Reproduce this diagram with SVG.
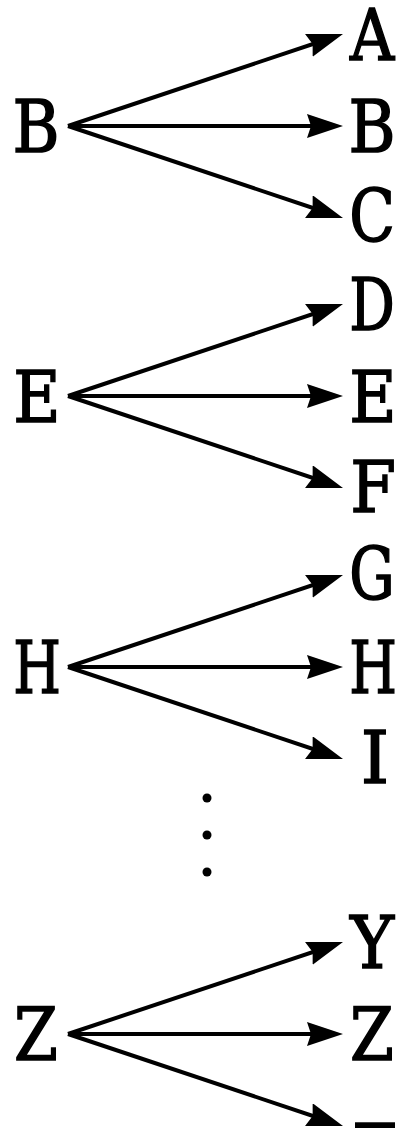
<svg xmlns="http://www.w3.org/2000/svg" width="400" height="1128" viewBox="0 0 400 1128">
  <style>
    .lbl { font-family: "DejaVu Serif", "Liberation Serif", serif; font-size: 72px; fill: #000; stroke: #000; stroke-width: 1.6; text-anchor: middle; }
    .edge { stroke: #000; stroke-width: 4; fill: none; marker-end: url(#head); }
  </style>
  <defs>
    <marker id="head" markerUnits="userSpaceOnUse" markerWidth="40" markerHeight="30" refX="28" refY="12" orient="auto">
      <path d="M0,0 L36,12 L0,24 L4,12 z" fill="#000"/>
    </marker>
  </defs>
  <rect width="400" height="1128" fill="#fff"/>

  <!-- connectors: each source fans out to three targets -->
  <g id="connectors">
    <path class="edge" d="M68,126 L335.4,36.5"/>
    <path class="edge" d="M68,126 L335,126"/>
    <path class="edge" d="M68,126 L335.4,215.5"/>

    <path class="edge" d="M68,396 L335.4,306.5"/>
    <path class="edge" d="M68,396 L335,396"/>
    <path class="edge" d="M68,396 L335.4,485.5"/>

    <path class="edge" d="M68,667 L335.4,577.5"/>
    <path class="edge" d="M68,667 L335,667"/>
    <path class="edge" d="M68,667 L335.4,756.5"/>

    <path class="edge" d="M68,1034 L335.4,944.5"/>
    <path class="edge" d="M68,1034 L335,1034"/>
    <path class="edge" d="M68,1034 L335.4,1123.5"/>
  </g>

  <!-- source nodes (letters narrowed to a typewriter-like width) -->
  <g id="src-B"><text class="lbl" transform="translate(36 152) scale(0.89 1)">B</text></g>
  <g id="src-E"><text class="lbl" transform="translate(37 422) scale(0.9 1)">E</text></g>
  <g id="src-H"><text class="lbl" transform="translate(37 693) scale(0.76 1)">H</text></g>
  <g id="src-Z"><text class="lbl" transform="translate(36 1060) scale(0.875 1)">Z</text></g>

  <!-- target nodes -->
  <g id="tgt-A"><text class="lbl" transform="translate(372 60) scale(0.85 1)">A</text></g>
  <g id="tgt-B"><text class="lbl" transform="translate(372 152) scale(0.89 1)">B</text></g>
  <g id="tgt-C"><text class="lbl" transform="translate(372 242) scale(0.83 1)">C</text></g>
  <g id="tgt-D"><text class="lbl" transform="translate(372 330) scale(0.79 1)">D</text></g>
  <g id="tgt-E"><text class="lbl" transform="translate(373 422) scale(0.9 1)">E</text></g>
  <g id="tgt-F"><text class="lbl" transform="translate(373 512) scale(0.915 1)">F</text></g>
  <g id="tgt-G"><text class="lbl" transform="translate(372 600) scale(0.79 1)">G</text></g>
  <g id="tgt-H"><text class="lbl" transform="translate(373 693) scale(0.76 1)">H</text></g>
  <g id="tgt-I"><text class="lbl" x="375" y="783">I</text></g>
  <g id="tgt-Y"><text class="lbl" transform="translate(372 968) scale(0.92 1)">Y</text></g>
  <g id="tgt-Z"><text class="lbl" transform="translate(372 1060) scale(0.875 1)">Z</text></g>
  <g id="tgt-underscore"><text class="lbl" x="375" y="1110" style="stroke-width:4">_</text></g>

  <!-- vertical ellipsis -->
  <g id="ellipsis" fill="#000">
    <circle cx="207" cy="798" r="4.5"/>
    <circle cx="207" cy="835" r="4.5"/>
    <circle cx="207" cy="872" r="4.5"/>
  </g>
</svg>
